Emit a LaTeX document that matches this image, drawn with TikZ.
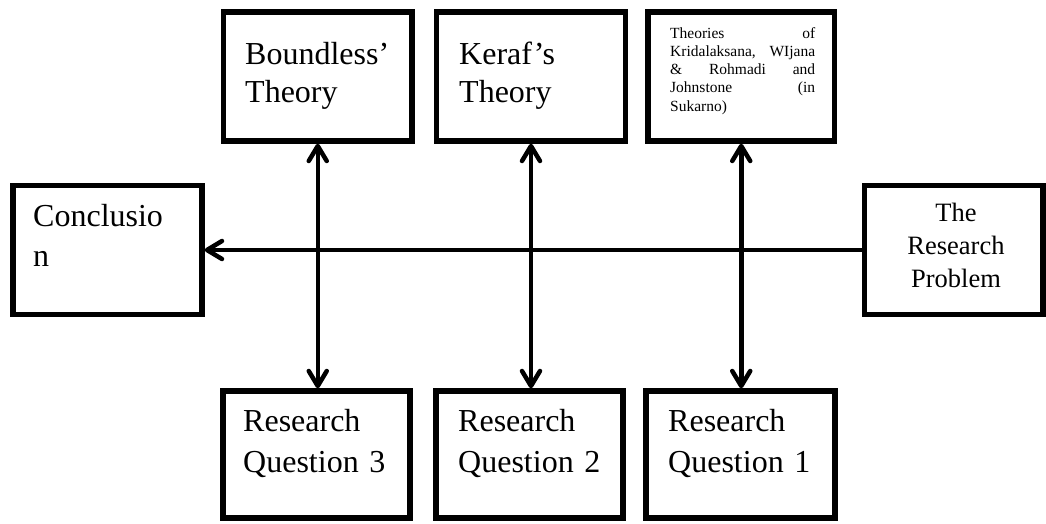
\documentclass[tikz,border=0pt]{standalone}
\usepackage{fontspec}
\setmainfont{Liberation Serif}
\usetikzlibrary{arrows.meta}
\tikzset{
  box/.style={draw=black, line width=5.5pt, fill=white, inner sep=0pt},
  conn/.style={draw=black, line width=4.5pt, line cap=round,
    arrows={-Straight Barb[length=15pt,width=18pt,line cap=round,line join=round]}},
  dconn/.style={conn, arrows={Straight Barb[length=15pt,width=18pt,line cap=round,line join=round]-Straight Barb[length=15pt,width=18pt,line cap=round,line join=round]}},
  txt/.style={inner sep=0pt, anchor=base west, align=left, text width=175pt},
  bigfont/.style={font=\fontsize{32}{38}\selectfont},
}
\begin{document}
\begin{tikzpicture}[x=1pt,y=-1pt]
\fill[white] (0,0) rectangle (1046,523);
\useasboundingbox (0,0) rectangle (1046,523);

% top boxes
\node[box, minimum width=188.5pt, minimum height=129pt] (b1) at (317.75,76.5) {};
\node[box, minimum width=189pt, minimum height=129pt] (b2) at (531,76.5) {};
\node[box, minimum width=186.5pt, minimum height=129pt] (b3) at (741.25,76.5) {};
% side boxes
\node[box, minimum width=189pt, minimum height=129pt] (concl) at (107.5,250) {};
\node[box, minimum width=178.5pt, minimum height=129pt] (prob) at (953.75,250) {};
% bottom boxes
\node[box, minimum width=187pt, minimum height=127pt] (rq3) at (316.5,454.5) {};
\node[box, minimum width=187pt, minimum height=127pt] (rq2) at (529.5,454.5) {};
\node[box, minimum width=189pt, minimum height=127pt] (rq1) at (740.5,454.5) {};

% texts
\node[txt, bigfont] (t1) at (245,64) {Boundless’\\Theory};
\node[txt, bigfont] (t2) at (459,64) {Keraf’s\\Theory};
\node[txt, text width=145pt, font=\fontsize{15.5}{18.2}\selectfont] (t3) at (670,38.3)
  {Theories\hfill of\\Kridalaksana,\hfill WIjana\\\&\hfill Rohmadi\hfill and\\Johnstone\hfill (in\\Sukarno)};
\node[txt, font=\fontsize{32}{40}\selectfont] (tc) at (33,226) {Conclusio\\n};
\node[inner sep=0pt, anchor=base, align=center, text width=170pt, font=\fontsize{26.5}{32.7}\selectfont] (tp) at (956,221.7) {The\\Research\\Problem};
\node[txt, font=\fontsize{32}{41}\selectfont] (tq3) at (243,431.7) {Research\\Question 3};
\node[txt, font=\fontsize{32}{41}\selectfont] (tq2) at (458,431.7) {Research\\Question 2};
\node[txt, font=\fontsize{32}{41}\selectfont] (tq1) at (668,431.7) {Research\\Question 1};

% connectors
\draw[conn] (prob.west) -- (concl.east);
\draw[dconn] (b1.south) -- (b1.south |- rq3.north);
\draw[dconn] (b2.south) -- (b2.south |- rq2.north);
\draw[dconn] (b3.south) -- (b3.south |- rq1.north);
\end{tikzpicture}
\end{document}
